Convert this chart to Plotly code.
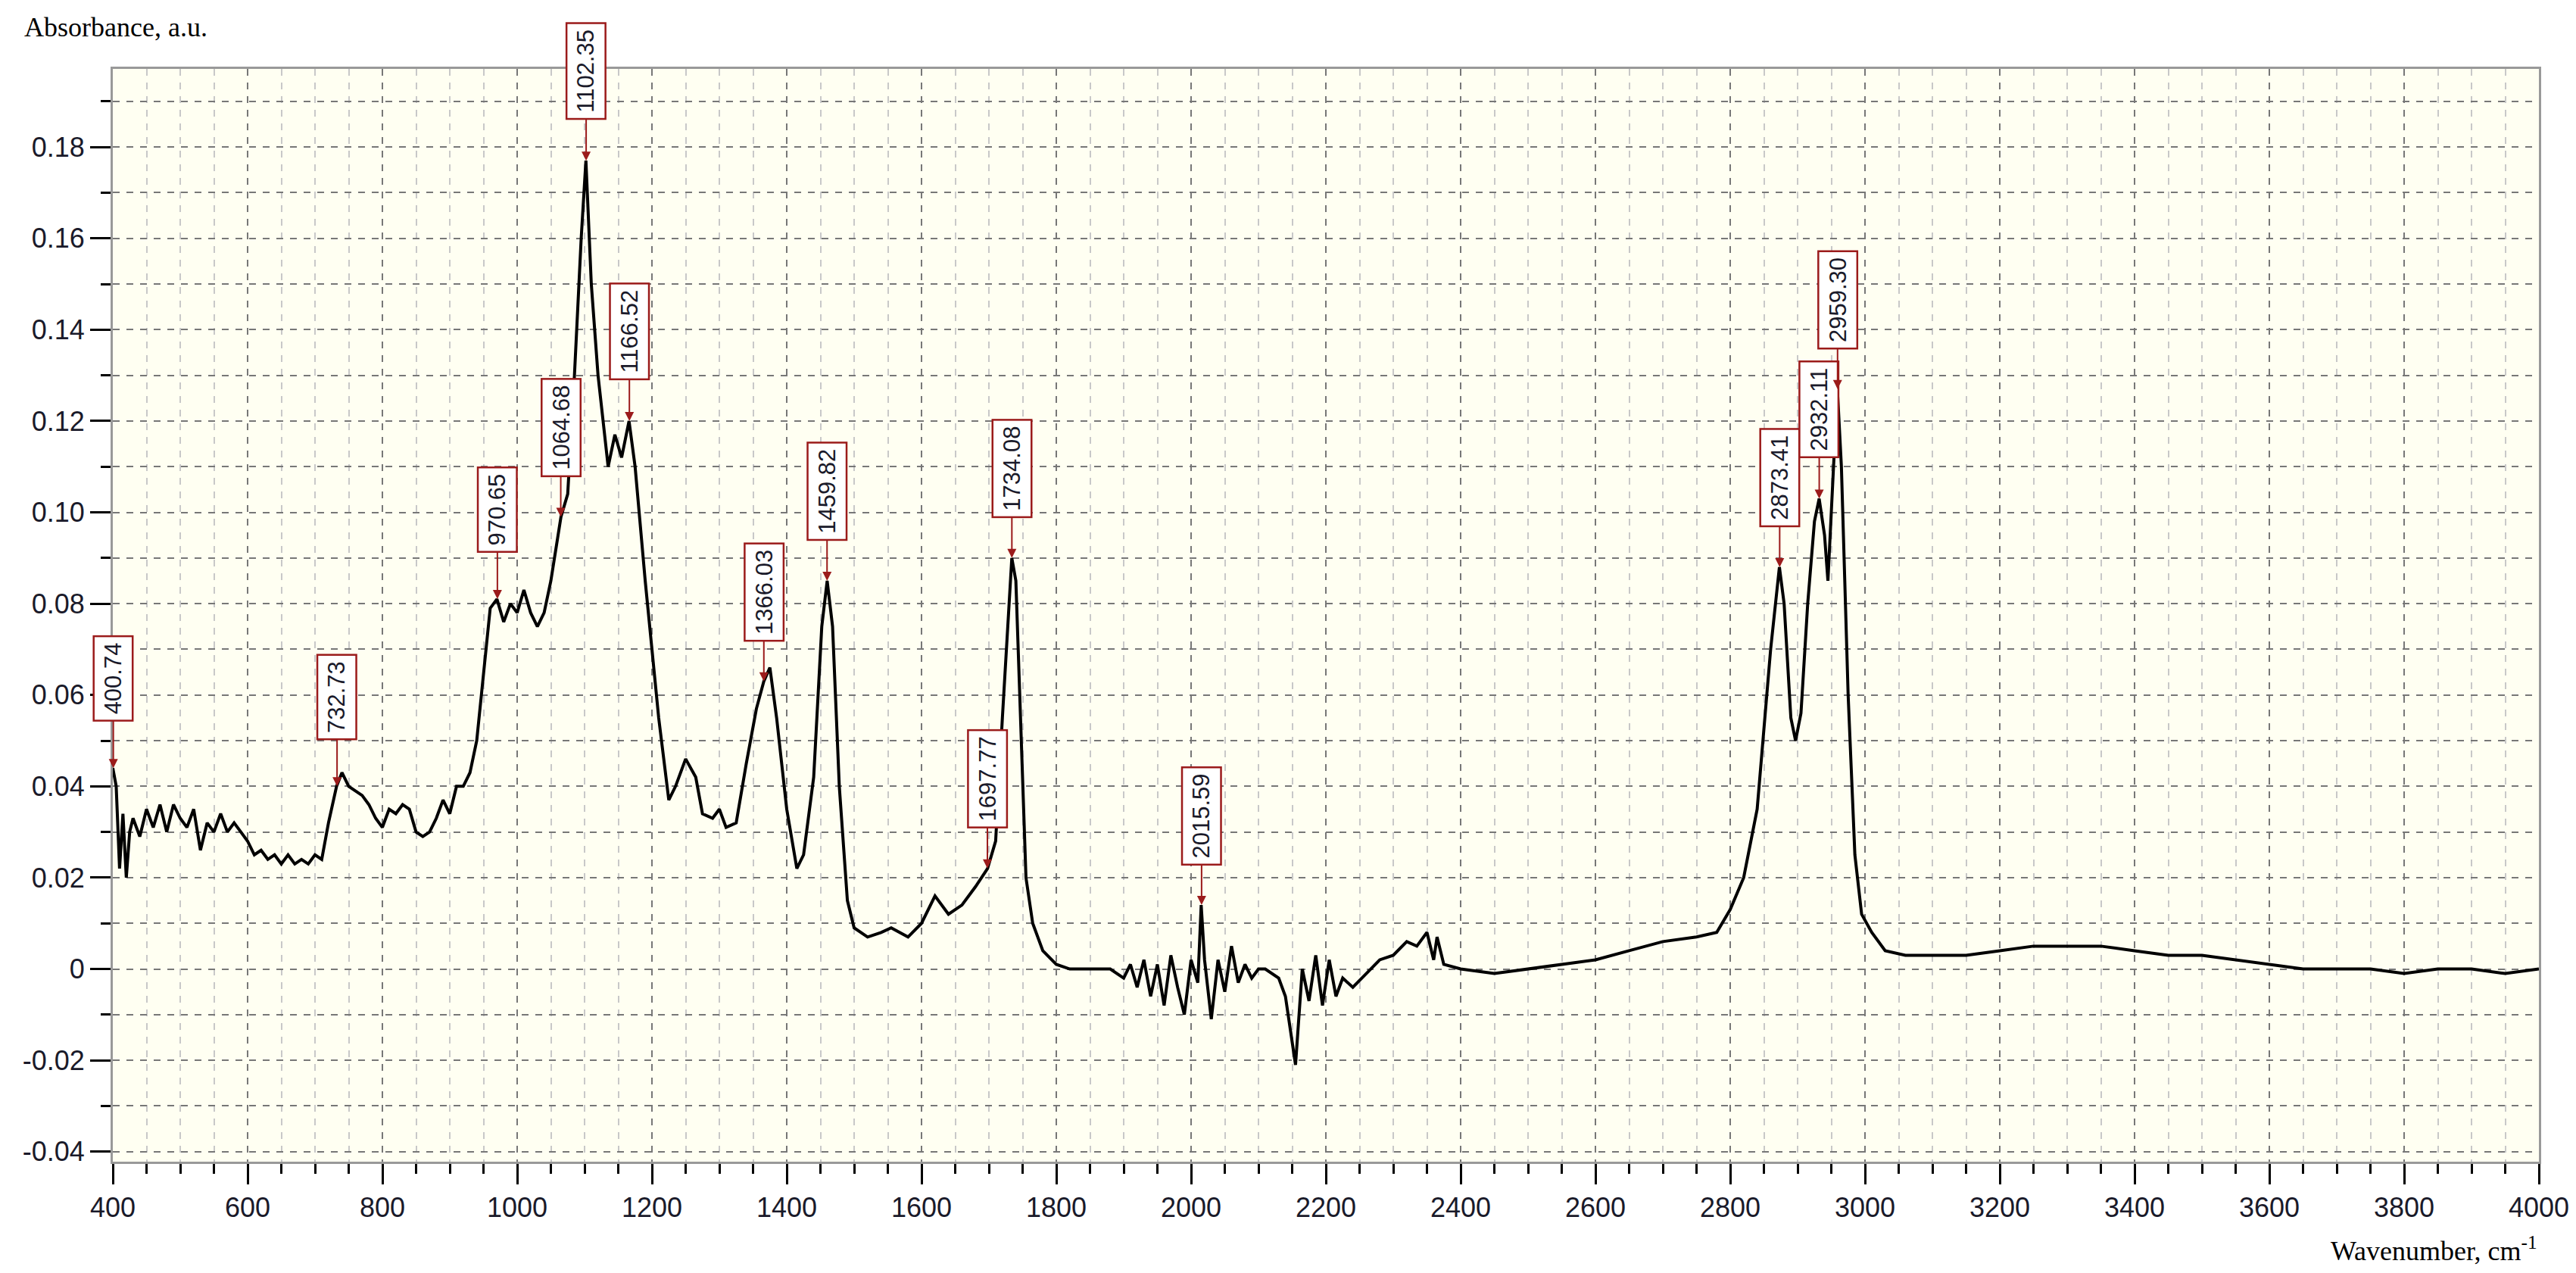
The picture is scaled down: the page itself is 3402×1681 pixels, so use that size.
import plotly.graph_objects as go

wavenumber = [400,405,410,415,420,425,430,440,450,460,470,480,490,500,510,520,530,540,550,560,570,580,590,600,610,620,630,640,650,660,670,680,690,700,710,720,732,740,750,760,770,780,790,800,810,820,830,840,850,860,870,880,890,900,910,920,930,940,950,960,970,980,990,1000,1010,1020,1030,1040,1050,1060,1065,1075,1085,1095,1102,1110,1120,1135,1145,1155,1166,1175,1190,1210,1225,1235,1250,1265,1275,1290,1300,1310,1325,1340,1355,1366,1375,1385,1400,1415,1425,1440,1452,1460,1468,1478,1490,1500,1520,1540,1555,1580,1600,1620,1640,1660,1680,1698,1710,1720,1734,1740,1748,1755,1765,1780,1800,1820,1840,1860,1880,1900,1910,1920,1930,1940,1950,1960,1970,1980,1990,2000,2010,2015,2020,2030,2040,2050,2060,2070,2080,2090,2100,2110,2120,2130,2140,2155,2165,2175,2185,2195,2205,2215,2225,2240,2260,2280,2300,2320,2335,2350,2360,2365,2375,2400,2450,2500,2550,2600,2650,2700,2750,2780,2800,2820,2840,2860,2873,2880,2890,2897,2905,2915,2925,2932,2940,2945,2950,2959,2965,2975,2985,2995,3010,3030,3060,3100,3150,3200,3250,3300,3350,3400,3450,3500,3550,3600,3650,3700,3750,3800,3850,3900,3950,4000]
absorbance = [0.044,0.040,0.022,0.034,0.020,0.030,0.033,0.029,0.035,0.031,0.036,0.030,0.036,0.033,0.031,0.035,0.026,0.032,0.030,0.034,0.030,0.032,0.030,0.028,0.025,0.026,0.024,0.025,0.023,0.025,0.023,0.024,0.023,0.025,0.024,0.032,0.040,0.043,0.040,0.039,0.038,0.036,0.033,0.031,0.035,0.034,0.036,0.035,0.030,0.029,0.030,0.033,0.037,0.034,0.040,0.040,0.043,0.050,0.065,0.079,0.081,0.076,0.080,0.078,0.083,0.078,0.075,0.078,0.085,0.095,0.099,0.104,0.130,0.160,0.177,0.150,0.130,0.110,0.117,0.112,0.120,0.110,0.085,0.055,0.037,0.040,0.046,0.042,0.034,0.033,0.035,0.031,0.032,0.045,0.057,0.063,0.066,0.055,0.035,0.022,0.025,0.042,0.075,0.085,0.075,0.040,0.015,0.009,0.007,0.008,0.009,0.007,0.010,0.016,0.012,0.014,0.018,0.022,0.028,0.055,0.090,0.085,0.050,0.020,0.010,0.004,0.001,0.000,0.000,0.000,0.000,-0.002,0.001,-0.004,0.002,-0.006,0.001,-0.008,0.003,-0.004,-0.010,0.002,-0.003,0.014,0.002,-0.011,0.002,-0.005,0.005,-0.003,0.001,-0.002,0.000,0.000,-0.001,-0.002,-0.006,-0.021,0.000,-0.007,0.003,-0.008,0.002,-0.006,-0.002,-0.004,-0.001,0.002,0.003,0.006,0.005,0.008,0.002,0.007,0.001,0.000,-0.001,0.000,0.001,0.002,0.004,0.006,0.007,0.008,0.013,0.020,0.035,0.070,0.088,0.080,0.055,0.050,0.056,0.080,0.098,0.103,0.095,0.085,0.100,0.127,0.110,0.060,0.025,0.012,0.008,0.004,0.003,0.003,0.003,0.004,0.005,0.005,0.005,0.004,0.003,0.003,0.002,0.001,0.000,0.000,0.000,-0.001,0.000,0.000,-0.001,0.000]

peak_x = [400.74,732.73,970.65,1064.68,1102.35,1166.52,1366.03,1459.82,1697.77,1734.08,2015.59,2873.41,2932.11,2959.30]
peak_y = [0.044,0.040,0.081,0.099,0.177,0.120,0.063,0.085,0.022,0.090,0.014,0.088,0.103,0.127]
peak_labels = ["400.74","732.73","970.65","1064.68","1102.35","1166.52","1366.03","1459.82","1697.77","1734.08","2015.59","2873.41","2932.11","2959.30"]

y_tickvals = [-0.04,-0.02,0,0.02,0.04,0.06,0.08,0.10,0.12,0.14,0.16,0.18]
y_ticktext = ["-0.04","-0.02","0","0.02","0.04","0.06","0.08","0.10","0.12","0.14","0.16","0.18"]
x_tickvals = list(range(400, 4001, 200))

fig = go.Figure(go.Scatter(x=wavenumber, y=absorbance, mode="lines",
                           line=dict(color="black", width=4), showlegend=False))

red = "#9B1B1B"
for px_, py_, lab in zip(peak_x, peak_y, peak_labels):
    fig.add_annotation(x=px_, y=py_, xref="x", yref="y", text=lab, textangle=-90,
                       showarrow=True, arrowhead=2, arrowsize=1.2, arrowwidth=2, arrowcolor=red,
                       ax=0, ay=-118, bordercolor=red, borderwidth=2.5, borderpad=7, bgcolor="white",
                       font=dict(family="Arial", size=31, color="#1a1a2a"))

fig.add_annotation(text="Absorbance, a.u.", xref="paper", yref="paper", x=-0.037, y=1.0,
                   yshift=55, xanchor="left", yanchor="middle", showarrow=False,
                   font=dict(family="Liberation Serif", size=36, color="black"))
fig.add_annotation(text="Wavenumber, cm<sup>-1</sup>", xref="paper", yref="paper", x=1.0, y=0,
                   yshift=-115, xanchor="right", yanchor="middle", showarrow=False,
                   font=dict(family="Liberation Serif", size=36, color="black"))

axcommon = dict(showline=True, linecolor="#999999", linewidth=3, mirror=True, zeroline=False,
                ticks="outside", tickcolor="black", tickwidth=3, ticklen=27,
                tickfont=dict(family="Arial", size=36, color="#1a1a2a"))
fig.update_xaxes(range=[400, 4000], tickvals=x_tickvals, showgrid=True, gridcolor="#777777",
                 griddash="dash", gridwidth=2,
                 minor=dict(dtick=50, tick0=400, showgrid=True, gridcolor="#c8c8c8", griddash="dash",
                            gridwidth=2, ticks="outside", ticklen=13, tickcolor="black", tickwidth=3),
                 **axcommon)
fig.update_yaxes(range=[-0.0422, 0.1971], tickvals=y_tickvals, ticktext=y_ticktext, showgrid=True,
                 gridcolor="#777777", griddash="dash", gridwidth=2,
                 minor=dict(dtick=0.01, tick0=0, showgrid=True, gridcolor="#777777", griddash="dash",
                            gridwidth=2, ticks="outside", ticklen=13, tickcolor="black", tickwidth=3),
                 **axcommon)
fig.update_layout(width=3402, height=1681, margin=dict(l=141, r=57, t=83, b=155),
                  plot_bgcolor="#FFFFF2", paper_bgcolor="white")
fig.write_html("out.html")
